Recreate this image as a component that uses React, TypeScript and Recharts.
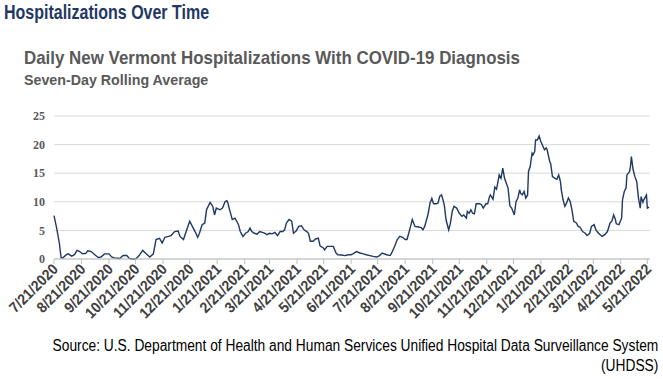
import { LineChart, Line, XAxis, YAxis, CartesianGrid } from "recharts";

// days since 7/21/2020
const dayOffset = [
  0, 3, 6, 8, 10, 14, 16, 20, 23, 26, 29, 32, 36, 38, 42, 46, 50, 53, 57, 62,
  65, 68, 74, 78, 82, 85, 88, 92, 96, 100, 104, 108, 112, 115, 119, 122, 125, 129, 132, 136,
  140, 142, 146, 149, 153, 157, 160, 162, 164, 167, 170, 172, 176, 179, 181, 183, 187, 190, 193, 195,
  196, 198, 201, 204, 206, 208, 210, 213, 216, 219, 221, 223, 226, 229, 232, 235, 238, 240, 243, 246,
  249, 252, 255, 258, 260, 262, 265, 268, 270, 273, 276, 279, 282, 285, 287, 289, 292, 295, 298, 300,
  304, 305, 308, 311, 315, 318, 320, 324, 328, 332, 335, 337, 341, 345, 349, 352, 356, 360, 364, 367,
  370, 375, 379, 381, 384, 387, 390, 393, 396, 398, 400, 402, 404, 407, 411, 414, 416, 418, 422, 424,
  426, 428, 431, 433, 435, 437, 440, 442, 445, 447, 449, 451, 454, 457, 460, 462, 465, 466, 468, 470,
  472, 474, 476, 480, 482, 484, 487, 489, 491, 492, 495, 497, 499, 502, 504, 506, 508, 510, 512, 514,
  516, 519, 521, 523, 525, 526, 528, 530, 532, 534, 535, 537, 539, 540, 542, 543, 545, 547, 549, 551,
  553, 555, 556, 559, 560, 562, 565, 567, 569, 571, 572, 574, 576, 578, 580, 582, 584, 586, 589, 591,
  593, 596, 599, 601, 604, 606, 609, 611, 614, 618, 621, 624, 627, 629, 631, 633, 634, 637, 640, 641,
  643, 645, 646, 649, 650, 651, 653, 655, 657, 659, 661, 662, 664, 665, 668, 669, 671,
];

const hospitalizations = [
  7.6, 5.4, 2.8, 0.2, 0.2, 0.75, 0.9, 0.5, 0.75, 1.5, 1.3, 0.9, 1.0, 1.45, 1.3, 0.75, 0.25, 0.35, 0.9, 0.9,
  0.35, 0.2, 0.1, 0.6, 0.6, 0.1, 0, 0, 0.6, 1.5, 0.9, 0.35, 0.9, 3.4, 3.6, 2.8, 3.8, 3.95, 4.1, 4.8,
  4.9, 3.95, 3.4, 4.8, 6.6, 5.4, 4.5, 3.8, 4.5, 6.0, 6.3, 8.6, 9.9, 9.2, 7.7, 8.9, 8.6, 8.9, 10.05, 10.2,
  9.8, 8.6, 6.9, 7.15, 6.6, 6.0, 4.8, 3.95, 4.5, 4.8, 5.4, 4.8, 4.5, 4.35, 4.8, 4.65, 4.5, 4.25, 4.5, 4.4,
  4.65, 4.1, 4.8, 4.8, 5.1, 6.3, 6.9, 6.6, 4.5, 4.9, 5.7, 5.8, 5.1, 4.8, 4.5, 3.1, 3.1, 3.5, 3.65, 2.3,
  1.9, 1.6, 2.2, 2.2, 2.2, 1.05, 0.75, 0.7, 0.6, 0.75, 0.75, 0.9, 1.3, 1.05, 0.9, 0.75, 0.6, 0.45, 0.35, 0.6,
  1.05, 0.75, 0.6, 1.15, 2.2, 3.4, 3.95, 3.8, 3.4, 3.4, 4.5, 5.7, 6.9, 5.7, 5.6, 5.5, 5.1, 5.7, 8.0, 9.8,
  10.6, 9.65, 9.65, 9.8, 11.0, 11.2, 9.5, 6.9, 5.1, 6.3, 8.3, 9.2, 8.9, 8.0, 7.45, 7.7, 7.15, 8.3, 8.0, 8.6,
  8.0, 7.9, 9.65, 9.65, 9.5, 8.9, 9.65, 9.65, 10.9, 11.2, 10.45, 12.55, 12.2, 14.7, 14.1, 15.9, 14.1, 13.25, 12.4, 9.3,
  8.9, 7.7, 10.05, 10.65, 12.1, 11.5, 11.2, 11.8, 10.65, 11.2, 15.3, 16.2, 18.5, 18.2, 18.8, 20.8, 20.8, 21.5, 20.5, 19.8,
  19.1, 19.4, 19.1, 17.0, 16.7, 14.4, 14.1, 13.95, 14.7, 13.55, 12.1, 10.35, 9.2, 9.8, 10.65, 10.05, 8.6, 6.6, 6.3, 5.7,
  5.6, 4.8, 4.5, 4.1, 4.5, 5.7, 6.0, 5.1, 4.5, 3.95, 4.25, 4.8, 6.3, 6.6, 7.7, 6.9, 6.15, 6.0, 7.15, 10.35,
  11.8, 12.4, 14.7, 15.3, 16.2, 17.9, 15.6, 14.4, 13.55, 10.65, 8.9, 10.9, 9.9, 10.35, 11.2, 8.9, 9.05,
];

const tickLabels = [
  "7/21/2020", "8/21/2020", "9/21/2020", "10/21/2020", "11/21/2020", "12/21/2020",
  "1/21/2021", "2/21/2021", "3/21/2021", "4/21/2021", "5/21/2021", "6/21/2021",
  "7/21/2021", "8/21/2021", "9/21/2021", "10/21/2021", "11/21/2021", "12/21/2021",
  "1/21/2022", "2/21/2022", "3/21/2022", "4/21/2022", "5/21/2022",
];

const yTicks = [0, 5, 10, 15, 20, 25];

const START = Date.UTC(2020, 6, 21);
const DAY = 86400000;

const toOffset = (label: string) => {
  const [m, d, y] = label.split("/").map(Number);
  return Math.round((Date.UTC(y, m - 1, d) - START) / DAY);
};

const tickOffsets = tickLabels.map(toOffset);
const labelByOffset: Record<number, string> = {};
tickLabels.forEach((l, i) => (labelByOffset[tickOffsets[i]] = l));

const data = dayOffset.map((d, i) => ({ d, v: hospitalizations[i] }));

const font = "'Liberation Sans', Arial, sans-serif";

function DateTick(props: any) {
  const { x, y, payload } = props;
  return (
    <g transform={`translate(${x + 5} ${y + 4}) rotate(-45) scale(0.93 1)`}>
      <text x={0} y={0} textAnchor="end" fontFamily={font} fontWeight="bold" fontSize={15} fill="#404040">
        {labelByOffset[payload.value]}
      </text>
    </g>
  );
}

// narrow-looking text: regular font squeezed horizontally
function Squeezed({ left, right, top, size, sx, bold, color, children }: any) {
  return (
    <div
      style={{
        position: "absolute",
        left,
        right,
        top,
        fontFamily: font,
        fontWeight: bold ? "bold" : "normal",
        fontSize: size,
        color,
        lineHeight: "20px",
        whiteSpace: "nowrap",
        textAlign: right !== undefined ? "right" : "left",
        transform: `scaleX(${sx})`,
        transformOrigin: right !== undefined ? "right top" : "left top",
      }}
    >
      {children}
    </div>
  );
}

export default function App() {
  return (
    <div style={{ position: "absolute", left: 0, top: 0, width: 663, height: 379, background: "#fff" }}>
      <Squeezed left={4} top={2} size={20} sx={0.8} bold color="#1f3864">
        Hospitalizations Over Time
      </Squeezed>
      <Squeezed left={24} top={48} size={19} sx={0.89} bold color="#595959">
        Daily New Vermont Hospitalizations With COVID-19 Diagnosis
      </Squeezed>
      <Squeezed left={24} top={70} size={15} sx={0.95} bold color="#595959">
        Seven-Day Rolling Average
      </Squeezed>
      <LineChart width={663} height={379} data={data} margin={{ top: 116, right: 13, bottom: 0, left: 0 }}>
        <CartesianGrid vertical={false} stroke="#d9d9d9" />
        <XAxis
          dataKey="d"
          type="number"
          domain={[0, 672]}
          ticks={tickOffsets}
          interval={0}
          height={120}
          stroke="#bfbfbf"
          tickSize={5}
          tickMargin={2}
          tick={<DateTick />}
        />
        <YAxis
          domain={[0, 25]}
          ticks={yTicks}
          width={54}
          axisLine={false}
          tickLine={false}
          tickSize={0}
          tickMargin={9}
          tick={{ fill: "#595959", fontSize: 12, fontFamily: "'Liberation Serif', serif", fontWeight: "bold" }}
        />
        <Line type="linear" dataKey="v" stroke="#1f3864" strokeWidth={1.4} dot={false} isAnimationActive={false} />
      </LineChart>
      <Squeezed right={5} top={336} size={16} sx={0.86} color="#000">
        Source: U.S. Department of Health and Human Services Unified Hospital Data Surveillance System
        <br />
        (UHDSS)
      </Squeezed>
    </div>
  );
}
